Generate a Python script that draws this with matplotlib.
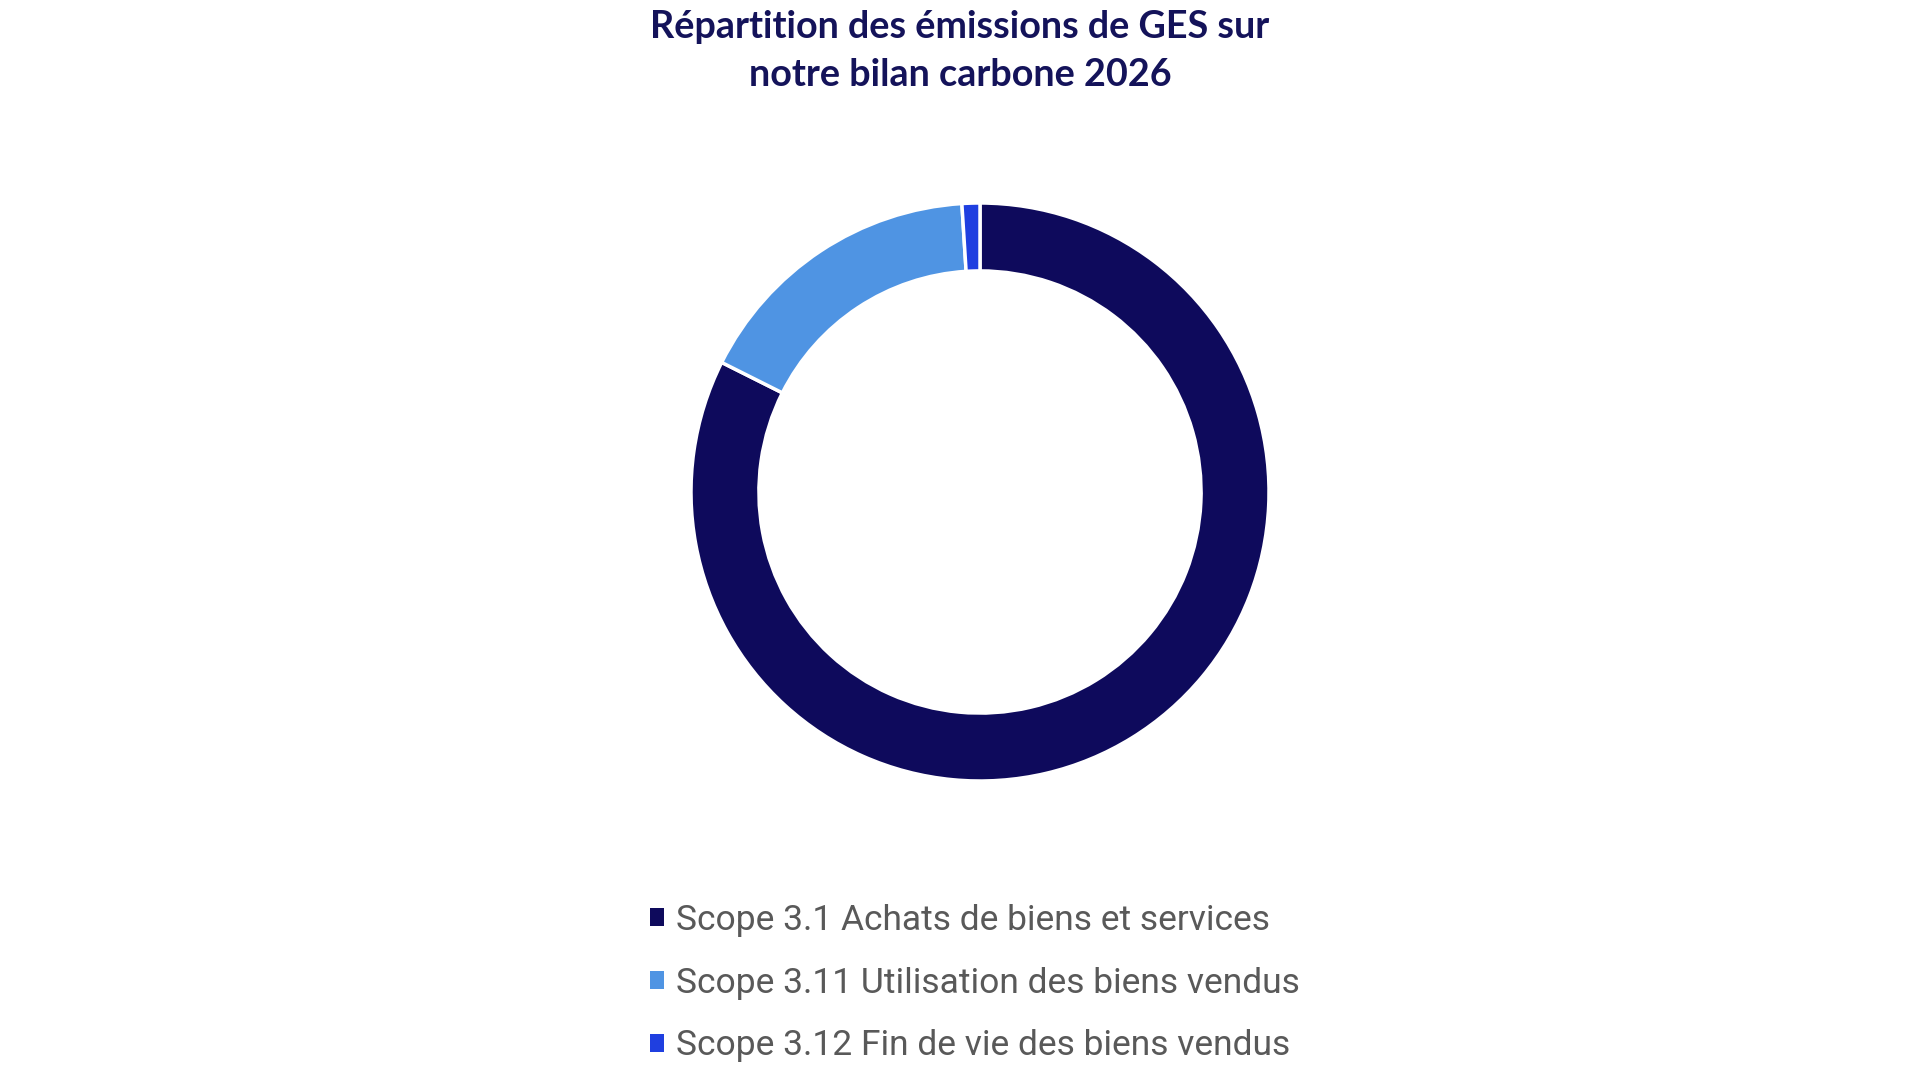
import matplotlib
matplotlib.use('Agg')
import matplotlib.pyplot as plt

# Répartition des émissions de GES (bilan carbone 2026), en %
labels = ["Scope 3.1 Achats de biens et services",
          "Scope 3.11 Utilisation des biens vendus",
          "Scope 3.12 Fin de vie des biens vendus"]
values = [82.4, 16.6, 1.0]
colors = ["#0e0a5c", "#4f94e3", "#1f3fe0"]

title = "Répartition des émissions de GES sur\nnotre bilan carbone 2026"

fig = plt.figure(figsize=(19.2, 10.8), dpi=100)
fig.patch.set_facecolor("white")

# axe carré centré sur le donut
W, H = 1920, 1080
r_px = 289
cx, cy = 980, 492
ax = fig.add_axes([(cx - r_px) / W, (H - cy - r_px) / H, 2 * r_px / W, 2 * r_px / H])
wedges, _ = ax.pie(values, colors=colors, startangle=90, counterclock=False,
                   radius=1.0,
                   wedgeprops=dict(width=0.235, edgecolor="white", linewidth=2.5))
ax.set_xlim(-1, 1)
ax.set_ylim(-1, 1)
ax.set_aspect("equal")
ax.axis("off")

fig.text(0.5, 1 - 51 / H, title, ha="center", va="center", fontsize=27.2,
         fontweight="bold", color="#14135a", family="Lato", linespacing=1.5)

leg = fig.legend(wedges, labels, loc="upper left",
                 bbox_to_anchor=(618 / W, 1 - 872 / H),
                 frameon=False, labelcolor="#595959",
                 handlelength=0.4, handleheight=0.4, handletextpad=0.35,
                 labelspacing=0.84, prop={"family": "Roboto", "size": 25.5})
for h in leg.legend_handles:
    h.set_edgecolor("none")

fig.savefig("out.png", dpi=100, facecolor="white")
